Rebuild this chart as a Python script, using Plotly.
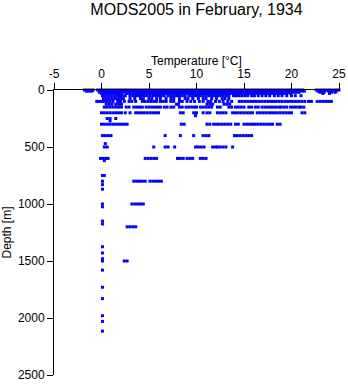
import plotly.graph_objects as go

t_0m = [-1.8, -1.5, -1.2, -0.9,
        -0.4, -0.1, 0.2, 0.5, 0.8, 1.1, 1.4, 1.7, 2.0, 2.3, 2.6, 2.9, 3.2, 3.5, 3.8, 4.1, 4.4, 4.7,
        5.0, 5.3, 5.6, 5.9, 6.2, 6.5, 6.8, 7.1, 7.4, 7.7, 8.0, 8.3, 8.6, 8.9, 9.2, 9.5, 9.8, 10.1,
        10.4, 10.7, 11.0, 11.3, 11.6, 11.9, 12.2, 12.5, 12.8, 13.1, 13.4, 13.7, 14.0, 14.3, 14.6,
        14.9, 15.2, 15.5, 15.8, 16.1, 16.4, 16.7, 17.0, 17.3, 17.6, 17.9, 18.2, 18.5, 18.8, 19.1,
        19.4, 19.7, 20.0, 20.3, 20.6, 20.9, 21.2,
        22.6, 22.9, 23.2, 23.5, 23.8, 24.1, 24.4, 24.7, 25.0]
t_10m = [-1.6, -1.3, -1.0,
         -0.25, 0.05, 0.35, 0.65, 0.95, 1.25, 1.55, 1.85, 2.15, 2.45, 2.75, 3.05, 3.35, 3.65, 3.95,
         4.25, 4.55, 4.85, 5.15, 5.45, 5.75, 6.05, 6.35, 6.65, 6.95, 7.25, 7.55, 7.85, 8.15, 8.45,
         8.75, 9.05, 9.35, 9.65, 9.95, 10.25, 10.55, 10.85, 11.15, 11.45, 11.75, 12.05, 12.35,
         12.65, 12.95, 13.25, 13.55, 13.85, 14.15, 14.45, 14.75, 15.05, 15.35, 15.65, 15.95,
         16.25, 16.55, 16.85, 17.15, 17.45, 17.75, 18.05, 18.35, 18.65, 18.95, 19.25, 19.55,
         19.85, 20.15, 20.45, 20.75, 21.05, 21.35,
         22.8, 23.1, 23.5, 23.9, 24.3, 24.7]
t_20m = [-0.2, 0.1, 0.4, 0.7, 1.0, 1.3, 1.6, 1.9, 2.2, 2.5, 2.8, 3.1, 3.4, 3.7, 4.0, 4.3, 4.6, 4.9,
         5.2, 5.5, 5.8, 6.1, 6.4, 6.7, 7.0, 7.3, 7.6, 7.9, 8.2, 8.5, 8.8, 9.1, 9.4, 9.7, 10.0, 10.3,
         10.6, 10.9, 11.2, 11.5, 11.8, 12.1, 12.4, 12.7, 13.0, 13.3, 13.6, 13.9, 14.2, 14.5, 14.8,
         15.1, 15.4, 15.7, 16.0, 16.3, 16.6, 16.9, 17.2, 17.5, 17.8, 18.1, 18.4, 18.7, 19.0, 19.3,
         19.6, 19.9, 20.2, 20.5, 20.8,
         23.0, 23.4, 24.2, 24.6]
t_30m = [0.0, 0.3, 0.6, 0.9, 1.2, 1.5, 1.8, 2.1, 2.7, 3.0, 3.3, 3.6, 3.9, 4.2, 4.5, 4.8, 5.1, 5.4,
         5.7, 6.0, 6.3, 6.6, 6.9, 7.2, 7.5, 7.8, 8.1, 8.4, 8.7, 9.0, 9.3, 9.6, 9.9, 10.2, 10.5,
         10.8, 11.1, 11.4, 11.7, 12.0, 12.3, 12.6, 12.9, 13.2, 13.5, 13.8, 14.1, 14.4, 14.7, 15.0,
         15.3, 15.6, 15.9, 16.2, 16.5, 16.8, 17.1, 17.4, 17.7, 18.0, 18.3, 18.6, 18.9, 19.2, 19.5,
         19.9, 23.3, 24.0]
t_50m = [0.1, 0.4, 0.7, 1.0, 1.3, 1.6, 1.9, 2.2, 2.5, 3.0, 3.3, 3.6, 3.9, 4.2, 4.5, 4.8, 5.1, 5.4,
         5.7, 6.0, 6.3, 6.6, 7.0, 7.3, 7.6, 7.9, 8.2, 8.5, 8.8, 9.2, 9.5, 9.8, 10.1, 10.4, 10.7,
         11.0, 11.3, 11.6, 11.9, 12.2, 12.5, 12.8, 13.1, 13.4, 13.9, 14.2, 14.5, 14.8, 15.1, 15.4,
         15.8, 16.1, 16.5, 16.9, 17.3, 17.7, 18.2, 18.6, 19.0, 19.5, 20.0, 20.4, 21.0]
t_75m = [0.2, 0.5, 0.8, 1.1, 1.4, 1.7, 2.0, 2.3, 3.0, 3.5, 4.1, 4.4, 5.0, 5.3, 5.8, 6.2, 6.8, 7.3,
         7.6, 8.2, 8.8, 9.1, 9.6, 10.2, 10.7, 11.0, 11.6, 12.1, 12.7, 13.0, 13.4]
t_100m = [-0.5, -0.3, 0.0, 0.3, 0.6, 0.9, 1.2, 1.7, 2.0, 2.4, 2.9, 3.2, 3.6, 4.3, 4.6, 4.9, 5.2,
          5.5, 5.8, 6.2, 6.5, 6.8, 7.3, 7.6, 8.2, 8.5, 9.0, 9.4, 9.8, 10.3, 10.7, 11.2, 11.5, 12.0,
          12.4, 12.8, 13.3, 13.7, 14.5, 14.8, 15.1, 15.4, 15.7, 16.0, 16.3, 16.6, 16.9, 17.2, 17.5,
          17.8, 18.1, 18.4, 18.7, 19.0, 19.3, 19.6, 19.9, 20.2, 20.5, 20.8, 21.1, 21.4, 21.8, 22.1,
          22.7, 23.0, 23.3, 23.6, 23.9, 24.2]
t_125m = [0.5, 0.8, 1.1, 1.5, 1.8, 2.1, 7.9, 8.1, 11.1, 11.4, 11.7, 12.9, 13.2, 13.5]
t_150m = [0.3, 0.6, 0.9, 1.2, 1.5, 1.8, 2.1, 2.6, 2.9, 3.4, 3.7, 4.0, 4.3, 4.7, 5.0, 5.3, 5.6, 5.9,
          6.2, 6.6, 6.9, 7.3, 7.6, 8.2, 8.5, 8.9, 9.2, 9.5, 9.8, 10.0, 10.4, 10.7, 11.0, 11.3,
          11.6, 12.2, 12.5, 13.4, 13.7, 14.1, 14.4, 14.7, 15.0, 15.5, 15.8, 16.2, 16.5, 16.9, 17.2,
          17.5, 17.8, 18.1, 18.4, 18.7, 18.9, 19.2, 19.5, 19.9, 20.2, 20.5, 20.8, 21.0, 21.3]
t_200m = [0.0, 0.3, 0.6, 0.9, 1.2, 1.5, 1.8, 2.1, 2.5, 3.0, 3.6, 3.9, 4.2, 4.5, 4.8, 5.1, 5.4, 5.7,
          6.0, 8.3, 8.6, 9.7, 10.0, 10.7, 11.1, 11.4, 12.2, 12.5, 12.8, 13.1, 13.8, 14.1, 14.4,
          14.7, 15.0, 15.3, 15.6, 15.9, 16.4, 16.7, 17.0, 17.3, 17.6, 17.9, 18.2, 18.5, 18.8, 19.1,
          19.4, 19.7, 20.0, 21.1, 21.4]
t_225m = [9.9]
t_250m = [0.6, 0.9, 1.5]
t_270m = [0.9]
t_300m = [0.0, 0.3, 0.6, 0.9, 1.2, 1.5, 1.8, 2.1, 2.4, 2.7, 8.4, 8.7, 11.1, 11.4, 11.8, 12.1, 12.4,
          12.7, 13.0, 13.3, 13.6, 14.1, 14.4, 15.0, 15.3, 15.6, 15.9, 16.2, 16.5, 16.8, 17.1, 17.4,
          17.7, 18.0, 18.5, 18.8]
t_400m = [0.1, 0.4, 0.7, 1.0, 6.7, 8.3, 9.7, 10.7, 11.0, 11.3, 14.0, 14.3, 14.6, 14.9, 15.2, 15.5,
          15.8]
t_470m = [0.4]
t_500m = [0.3, 0.6, 5.5, 6.7, 7.0, 7.7, 9.9, 10.2, 10.5, 10.8, 11.7, 12.0, 12.2, 12.5, 12.8, 13.1,
          13.8]
t_600m = [-0.1, 0.2, 0.5, 0.7, 4.6, 4.9, 5.2, 5.5, 5.8, 8.0, 8.3, 8.6, 9.0, 9.3, 9.6, 10.4, 10.7,
          11.0]
t_620m = [0.3]
t_750m = [0.1, 0.3]
t_800m = [0.1, 3.4, 3.7, 4.0, 4.3, 4.6, 5.1, 5.4, 5.7, 6.0, 6.3]
t_830m = [0.1]
t_870m = [0.1]
t_1000m = [0.1, 3.2, 3.5, 3.8, 4.1, 4.4]
t_1025m = [0.1]
t_1150m = [0.1]
t_1175m = [0.1]
t_1200m = [2.7, 3.0, 3.3, 3.6]
t_1375m = [0.1]
t_1430m = [0.1]
t_1480m = [0.1]
t_1500m = [0.1, 2.4, 2.7]
t_1580m = [0.1]
t_1730m = [0.1]
t_1830m = [0.1]
t_1980m = [0.1]
t_2030m = [0.1]
t_2115m = [0.1]

depth_levels = [0, 10, 20, 30, 50, 75, 100, 125, 150, 200, 225, 250, 270, 300, 400, 470, 500,
                600, 620, 750, 800, 830, 870, 1000, 1025, 1150, 1175, 1200, 1375, 1430, 1480,
                1500, 1580, 1730, 1830, 1980, 2030, 2115]
temps_at_level = [t_0m, t_10m, t_20m, t_30m, t_50m, t_75m, t_100m, t_125m, t_150m, t_200m, t_225m,
                  t_250m, t_270m, t_300m, t_400m, t_470m, t_500m, t_600m, t_620m, t_750m, t_800m,
                  t_830m, t_870m, t_1000m, t_1025m, t_1150m, t_1175m, t_1200m, t_1375m, t_1430m,
                  t_1480m, t_1500m, t_1580m, t_1730m, t_1830m, t_1980m, t_2030m, t_2115m]

x_ticks = [-5, 0, 5, 10, 15, 20, 25]
y_ticks = [0, 500, 1000, 1500, 2000, 2500]

temp = []
depth = []
for d, ts in zip(depth_levels, temps_at_level):
    for t in ts:
        temp.append(t)
        depth.append(d)

FONT = "Liberation Sans, Arial, sans-serif"

fig = go.Figure()
fig.add_trace(go.Scatter(
    x=temp, y=depth, mode="markers",
    marker=dict(symbol="square", size=3, color="#0000ff", line=dict(width=0)),
    cliponaxis=False, hoverinfo="x+y",
))

fig.update_layout(
    width=348, height=384,
    margin=dict(l=54, r=9, t=90, b=9, autoexpand=False),
    paper_bgcolor="white", plot_bgcolor="white",
    showlegend=False,
    font=dict(family=FONT, size=12, color="black"),
    title=dict(text="MODS2005 in February, 1934", x=0.5, xref="paper", xanchor="center",
               y=1 - 9 / 384, yref="container", yanchor="middle", automargin=False,
               font=dict(family=FONT, size=16, color="black")),
    xaxis=dict(side="top", range=[-5, 25], tickvals=x_ticks, ticktext=[str(v) for v in x_ticks],
               ticks="outside", ticklen=6, tickwidth=1, tickcolor="black", automargin=False,
               showline=True, linecolor="black", linewidth=1, showgrid=False, zeroline=False),
    yaxis=dict(range=[2500, 0], tickvals=y_ticks, ticktext=[str(v) for v in y_ticks],
               ticks="outside", ticklen=6, tickwidth=1, tickcolor="black", automargin=False,
               showline=True, linecolor="black", linewidth=1, showgrid=False, zeroline=False,
               title=dict(text="Depth [m]", standoff=6, font=dict(size=12))),
    annotations=[dict(text="Temperature [°C]", xref="paper", yref="paper", x=0.5, y=1,
                      xanchor="center", yanchor="middle", yshift=29, showarrow=False,
                      font=dict(family=FONT, size=12, color="black"))],
)

fig.write_html("out.html")
